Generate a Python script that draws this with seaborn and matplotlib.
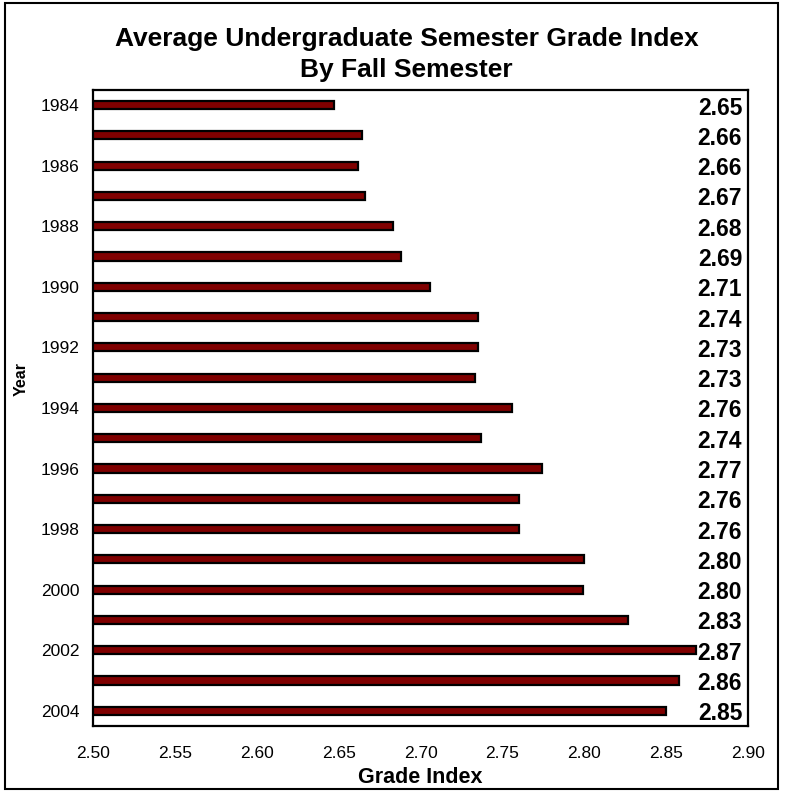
import pandas as pd
import seaborn as sns
import matplotlib.pyplot as plt
from matplotlib.patches import Rectangle
import matplotlib.transforms as mtransforms

years = [str(y) for y in range(1984, 2005)]
grade_index = [2.647, 2.664, 2.662, 2.666, 2.683, 2.688, 2.706, 2.735, 2.735, 2.733,
               2.756, 2.737, 2.774, 2.760, 2.760, 2.800, 2.799, 2.827, 2.868, 2.858, 2.850]
value_labels = ['2.65', '2.66', '2.66', '2.67', '2.68', '2.69', '2.71', '2.74', '2.73', '2.73',
                '2.76', '2.74', '2.77', '2.76', '2.76', '2.80', '2.80', '2.83', '2.87', '2.86', '2.85']

sns.set_style('white')
plt.rcParams['font.family'] = ['Liberation Sans', 'DejaVu Sans']
plt.rcParams['text.color'] = 'black'
plt.rcParams['axes.labelcolor'] = 'black'
plt.rcParams['xtick.color'] = 'black'
plt.rcParams['ytick.color'] = 'black'

df = pd.DataFrame({'Year': years, 'Grade Index': grade_index})

fig = plt.figure(figsize=(7.85, 7.99), dpi=100)
ax = fig.add_axes([0.1185, 0.0914, 0.8344, 0.796])

sns.barplot(data=df, x='Grade Index', y='Year', orient='h', color='#800000',
            edgecolor='black', linewidth=1.6, width=0.27, saturation=1, ax=ax)

ax.set_xlim(2.50, 2.90)
ax.set_ylim(len(years) - 0.5, -0.5)
ax.set_xticks([2.50, 2.55, 2.60, 2.65, 2.70, 2.75, 2.80, 2.85, 2.90])
ax.set_xticklabels([f'{t:.2f}' for t in ax.get_xticks()], fontsize=12.5)
ax.set_yticks(range(0, len(years), 2))
ax.set_yticklabels(years[::2], fontsize=12.5)
ax.tick_params(axis='x', direction='out', length=4.5, width=1.2, color='black', pad=10)
ax.tick_params(axis='y', length=0, pad=10)

for s in ax.spines.values():
    s.set_color('black')
    s.set_linewidth(1.6)

# value labels pinned to the right edge of the plot area
trans = mtransforms.blended_transform_factory(ax.transAxes, ax.transData)
for i, lab in enumerate(value_labels):
    ax.text(0.991, i + 0.1, lab, transform=trans, ha='right', va='center',
            fontsize=16.5, fontweight='bold')

ax.set_xlabel('Grade Index', fontsize=15.5, fontweight='bold', labelpad=4)
ax.set_ylabel('Year', fontsize=11.5, fontweight='bold')
ax.yaxis.set_label_coords(-0.098, 0.546)

fig.text(0.518, 0.951, 'Average Undergraduate Semester Grade Index',
         ha='center', va='center', fontsize=19, fontweight='bold')
fig.text(0.518, 0.913, 'By Fall Semester',
         ha='center', va='center', fontsize=19, fontweight='bold')

fig.patches.append(Rectangle((0.006, 0.012), 0.985, 0.984, transform=fig.transFigure,
                             fill=False, edgecolor='black', linewidth=1.5))

fig.savefig('out.png', dpi=100)
